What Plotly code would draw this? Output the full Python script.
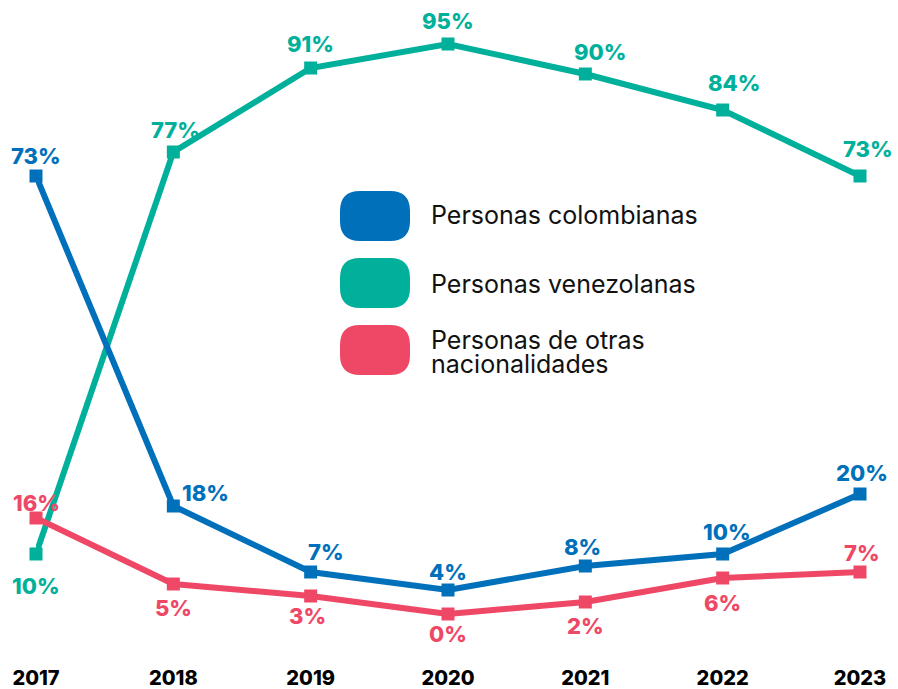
import plotly.graph_objects as go

years = [2017, 2018, 2019, 2020, 2021, 2022, 2023]
colombianas = [73, 18, 7, 4, 8, 10, 20]
venezolanas = [10, 77, 91, 95, 90, 84, 73]
otras = [16, 5, 3, 0, 2, 6, 7]

series_names = ['Personas colombianas', 'Personas venezolanas', 'Personas de otras<br>nacionalidades']

BLUE = '#0070bb'
GREEN = '#00b09b'
RED = '#ee4866'

W, H = 898, 689
ML, MR, MT, MB = 36, 38, 20, 39

# label offsets (px) for every point: (xshift, yshift)
shift_col = [(0, 20), (32, 13), (15, 20), (0, 18), (-3, 19), (4, 22), (2, 21)]
shift_ven = [(0, -32), (2, 22), (0, 24), (0, 23), (15, 22), (11, 27), (8, 27)]
shift_otr = [(0, 15), (0, -24), (-3, -20), (0, -20), (0, -24), (0, -25), (2, 19)]

fig = go.Figure()

label_font = dict(family='Inter', size=22, color='black', weight=800)

def add_serie(vals, color, shifts, name):
    fig.add_trace(go.Scatter(x=years, y=vals, mode='lines+markers', name=name,
                             line=dict(color=color, width=6),
                             marker=dict(symbol='square', size=13, color=color),
                             cliponaxis=False, showlegend=False))
    for x, v, (dx, dy) in zip(years, vals, shifts):
        fig.add_annotation(x=x, y=v, text=f'{v}%', showarrow=False,
                           xshift=dx, yshift=dy,
                           font=dict(label_font, color=color))

add_serie(venezolanas, GREEN, shift_ven, series_names[1])
add_serie(colombianas, BLUE, shift_col, series_names[0])
add_serie(otras, RED, shift_otr, series_names[2])

# legend drawn by hand: rounded swatches + text
pw, ph = W - ML - MR, H - MT - MB

def px2paper(px, py):
    return (px - ML) / pw, 1 - (py - MT) / ph

def rounded(x0, y0, x1, y1, r):
    def p(x, y):
        a, b = px2paper(x, y)
        return f'{a:.5f},{b:.5f}'
    return (f'M {p(x0 + r, y0)} L {p(x1 - r, y0)} Q {p(x1, y0)} {p(x1, y0 + r)} '
            f'L {p(x1, y1 - r)} Q {p(x1, y1)} {p(x1 - r, y1)} '
            f'L {p(x0 + r, y1)} Q {p(x0, y1)} {p(x0, y1 - r)} '
            f'L {p(x0, y0 + r)} Q {p(x0, y0)} {p(x0 + r, y0)} Z')

legend_items = [(BLUE, 191, 241, [215]), (GREEN, 258, 308, [284]), (RED, 325, 375, [340, 364])]
for (color, top, bot, tys), name in zip(legend_items, series_names):
    fig.add_shape(type='path', xref='paper', yref='paper',
                  path=rounded(340, top, 410, bot, 20),
                  fillcolor=color, line=dict(width=0))
    for ty, line in zip(tys, name.split('<br>')):
        tx, tyy = px2paper(430, ty)
        fig.add_annotation(x=tx, y=tyy, xref='paper', yref='paper', text=line,
                           showarrow=False, xanchor='left', yanchor='middle', align='left',
                           height=22, borderpad=0,
                           font=dict(family='Inter', size=25, color='#111111'))

fig.update_layout(
    width=W, height=H,
    margin=dict(l=ML, r=MR, t=MT, b=MB, autoexpand=False),
    plot_bgcolor='white', paper_bgcolor='white',
    xaxis=dict(range=[2017, 2023], tickvals=years, ticktext=[str(y) for y in years],
               showgrid=False, zeroline=False, showline=False, ticks='', automargin=False,
               tickfont=dict(family='Inter', size=20, color='black', weight=800),
               ticklabelstandoff=14),
    yaxis=dict(range=[-6, 99], visible=False, showgrid=False, zeroline=False, automargin=False),
)

fig.write_html('out.html', config={'displayModeBar': False},
               post_script="document.body.style.margin='0';")
